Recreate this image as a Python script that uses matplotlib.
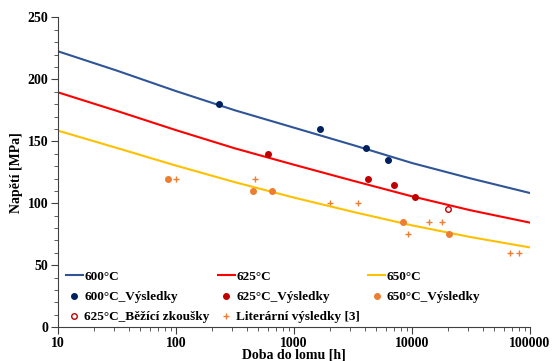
import matplotlib.pyplot as plt
import numpy as np

plt.rcParams['font.family'] = ['Liberation Serif', 'DejaVu Serif']
plt.rcParams['font.weight'] = 'bold'

# časy pro vyrovnávací křivky [h]
t_fit = [10, 31.6, 100, 316, 1000, 3160, 10000, 31600, 100000]
s_600 = [222.6, 207.0, 190.5, 175.0, 161.0, 147.0, 132.5, 120.0, 108.3]
s_625 = [189.5, 174.5, 159.0, 144.3, 131.1, 118.2, 105.6, 94.3, 84.4]
s_650 = [158.6, 144.6, 130.4, 117.0, 104.6, 93.1, 82.2, 72.7, 64.4]

# výsledky zkoušek
t_600 = [231, 1660, 4070, 6300]
v_600 = [180, 160, 145, 135]
t_625 = [600, 4200, 7100, 10700]
v_625 = [140, 120, 115, 105]
t_650 = [85, 452, 650, 8430, 20700]
v_650 = [120, 110, 110, 85, 75]
t_bezici = [20000]
v_bezici = [95]
t_lit = [100, 470, 2000, 3480, 9300, 14000, 18000, 68000, 81000]
v_lit = [120, 120, 100, 100, 75, 85, 85, 60, 60]

fig = plt.figure(figsize=(5.56, 3.61), dpi=100)
ax = fig.add_axes([0.1043, 0.0934, 0.8489, 0.8586])

ax.plot(t_fit, s_600, c='#2F5597', lw=1.5, label='600°C')
ax.plot(t_600, v_600, 'o', c='#002060', ms=4, label='600°C_Výsledky')
ax.plot(t_bezici, v_bezici, 'o', mfc='white', mec='#C00000', mew=1, ms=4,
        label='625°C_Běžící zkoušky')
ax.plot(t_fit, s_625, c='#FF0000', lw=1.5, label='625°C')
ax.plot(t_625, v_625, 'o', c='#C00000', ms=4, label='625°C_Výsledky')
ax.plot(t_lit, v_lit, '+', c='#ED7D31', ms=5, mew=1, label='Literární výsledky [3]')
ax.plot(t_fit, s_650, c='#FFC000', lw=1.5, label='650°C')
ax.plot(t_650, v_650, 'o', c='#ED7D31', ms=4, label='650°C_Výsledky')

ax.set_xscale('log')
ax.set_xlim(10, 100000)
ax.set_ylim(0, 250)
ax.set_yticks(np.arange(0, 251, 50))
ax.set_yticks(np.arange(0, 251, 10), minor=True)
ax.set_xticks([10, 100, 1000, 10000, 100000])
ax.set_xticklabels(['10', '100', '1000', '10000', '100000'])

for side in ['top', 'right']:
    ax.spines[side].set_visible(False)
for side in ['left', 'bottom']:
    ax.spines[side].set_color('#404040')
ax.tick_params(which='major', length=5, color='#404040', labelsize=10, pad=2)
ax.tick_params(which='minor', length=3, color='#404040')

ax.set_xlabel('Doba do lomu [h]', fontsize=10, fontweight='bold', labelpad=-1)
ax.set_ylabel('Napětí [MPa]', fontsize=10, fontweight='bold', labelpad=3)

ax.legend(ncol=3, loc='lower left', bbox_to_anchor=(0.0, -0.013), frameon=False,
          fontsize=9.5, handlelength=1.3, handletextpad=0.1, columnspacing=0.6,
          labelspacing=0.6, borderaxespad=0.2)

fig.savefig('out.png', dpi=100)
